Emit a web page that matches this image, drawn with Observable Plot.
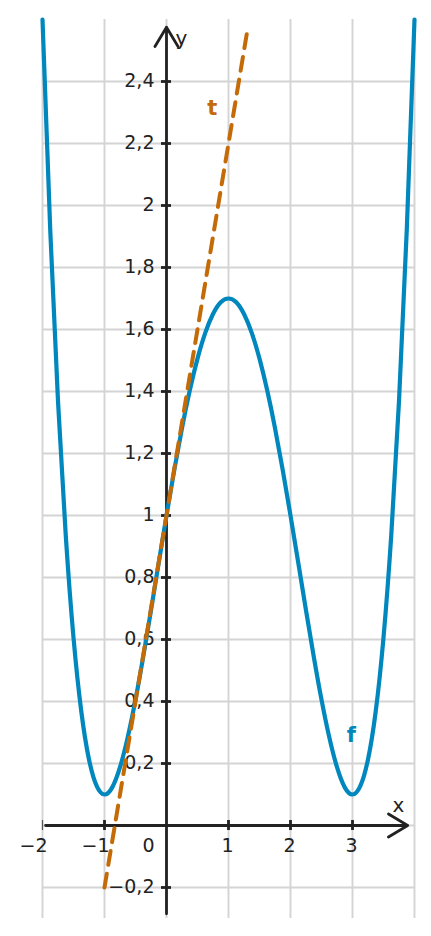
<!DOCTYPE html>
<html>
<head>
<meta charset="utf-8">
<script src="https://cdn.jsdelivr.net/npm/d3@7"></script>
<script src="https://cdn.jsdelivr.net/npm/@observablehq/plot@0.6"></script>
<style>
  html, body { margin: 0; padding: 0; background: #fff; }
  svg { font-family: "DejaVu Sans", sans-serif; }
</style>
</head>
<body>
<div id="chart"></div>
<script>
const fX = [-2, -1.875, -1.75, -1.625, -1.5, -1.375, -1.25, -1.125, -1, -0.875, -0.75, -0.625, -0.5, -0.375, -0.25, -0.125, 0, 0.125, 0.25, 0.375, 0.5, 0.625, 0.75, 0.875, 1, 1.125, 1.25, 1.375, 1.5, 1.625, 1.75, 1.875, 2, 2.125, 2.25, 2.375, 2.5, 2.625, 2.75, 2.875, 3, 3.125, 3.25, 3.375, 3.5, 3.625, 3.75, 3.875, 4];
const fY = [2.6, 1.92, 1.369, 0.936, 0.606, 0.369, 0.213, 0.127, 0.1, 0.123, 0.188, 0.285, 0.406, 0.545, 0.694, 0.848, 1, 1.146, 1.282, 1.403, 1.506, 1.589, 1.65, 1.688, 1.7, 1.688, 1.65, 1.589, 1.506, 1.403, 1.282, 1.146, 1, 0.848, 0.694, 0.545, 0.406, 0.285, 0.188, 0.123, 0.1, 0.127, 0.213, 0.369, 0.606, 0.936, 1.369, 1.92, 2.6];
// Tangent t
const tX = [-1, 1.3];
const tY = [-0.2, 2.56];

// Axes and ticks
const xDomain = [-2, 4];
const yDomain = [-0.3, 2.6];
const xGrid = [-2, -1, 0, 1, 2, 3, 4];
const yGrid = [-0.2, 0, 0.2, 0.4, 0.6, 0.8, 1, 1.2, 1.4, 1.6, 1.8, 2, 2.2, 2.4];
const xTicks = [-1, 1, 2, 3];
const xTickLabels = ["−2", "−1", "1", "2", "3"];
const xTickLabelValues = [-2, -1, 1, 2, 3];
const yTicks = [-0.2, 0.2, 0.4, 0.6, 0.8, 1, 1.2, 1.4, 1.6, 1.8, 2, 2.2, 2.4];
const yTickLabels = ["−0,2", "0,2", "0,4", "0,6", "0,8", "1", "1,2", "1,4", "1,6", "1,8", "2", "2,2", "2,4"];
const xAxisExtent = [-1.95, 3.89];
const yAxisExtent = [-0.285, 2.575];

// Annotation labels
const curveLabels = [
  {text: "t", x: 0.74, y: 2.315, color: "t"},
  {text: "f", x: 2.98, y: 0.29, color: "f"}
];
const axisLabels = [
  {text: "x", x: 3.74, y: 0.065},
  {text: "y", x: 0.24, y: 2.54}
];

const fData = fX.map((x, i) => ({x, y: fY[i]}));
const tData = tX.map((x, i) => ({x, y: tY[i]}));
const colors = {f: "#0087bd", t: "#c46a06"};
const ink = "#222222";
const fs = 19;

const chart = Plot.plot({
  width: 431,
  height: 936,
  marginLeft: 42,
  marginRight: 17,
  marginTop: 19,
  marginBottom: 18,
  x: {domain: xDomain, axis: null},
  y: {domain: yDomain, axis: null},
  style: {fontFamily: "DejaVu Sans, sans-serif", background: "#fff"},
  marks: [
    Plot.ruleX(xGrid, {x: d => d, stroke: "#d4d4d4", strokeWidth: 1.9}),
    Plot.ruleY(yGrid, {y: d => d, stroke: "#d4d4d4", strokeWidth: 1.9, x1: xDomain[0], x2: xDomain[1]}),
    // axes with arrows
    Plot.arrow([{x1: xAxisExtent[0], x2: xAxisExtent[1], y1: 0, y2: 0}], {x1: "x1", x2: "x2", y1: "y1", y2: "y2", stroke: ink, strokeWidth: 2.8, headLength: 12, headAngle: 62}),
    Plot.arrow([{x1: 0, x2: 0, y1: yAxisExtent[0], y2: yAxisExtent[1]}], {x1: "x1", x2: "x2", y1: "y1", y2: "y2", stroke: ink, strokeWidth: 2.8, headLength: 12, headAngle: 62}),
    // tick marks
    Plot.ruleX(xTicks, {x: d => d, y1: 0, y2: 0, insetTop: -5, insetBottom: -5, stroke: ink, strokeWidth: 2.8}),
    Plot.ruleX([xDomain[0]], {x: d => d, y1: 0, y2: 0, insetTop: -5, insetBottom: -5, stroke: "#555", strokeWidth: 1.2}),
    Plot.ruleY(yTicks, {y: d => d, x1: 0, x2: 0, insetLeft: -5, insetRight: -5, stroke: ink, strokeWidth: 2.8}),
    // tick labels
    Plot.text(xTickLabelValues, {x: d => d, y: 0, text: (d, i) => xTickLabels[i], textAnchor: "end", dx: 5, dy: 20, fontSize: fs, fill: ink}),
    Plot.text([0], {x: 0, y: 0, text: d => String(d), textAnchor: "end", dx: -12, dy: 20, fontSize: fs, fill: ink}),
    Plot.text(yTicks, {x: 0, y: d => d, text: (d, i) => yTickLabels[i], textAnchor: "end", dx: -12, dy: -1, fontSize: fs, fill: ink}),
    // axis names
    Plot.text(axisLabels, {x: "x", y: "y", text: "text", fontSize: fs + 1, fill: ink}),
    // curves
    Plot.line(fData, {x: "x", y: "y", curve: "natural", stroke: colors.f, strokeWidth: 4.2}),
    Plot.line(tData, {x: "x", y: "y", stroke: colors.t, strokeWidth: 4, strokeDasharray: "14,9"}),
    Plot.text(curveLabels, {x: "x", y: "y", text: "text", fill: d => colors[d.color], fontSize: fs + 2, fontWeight: "bold"})
  ]
});
document.getElementById("chart").appendChild(chart);
</script>
</body>
</html>
